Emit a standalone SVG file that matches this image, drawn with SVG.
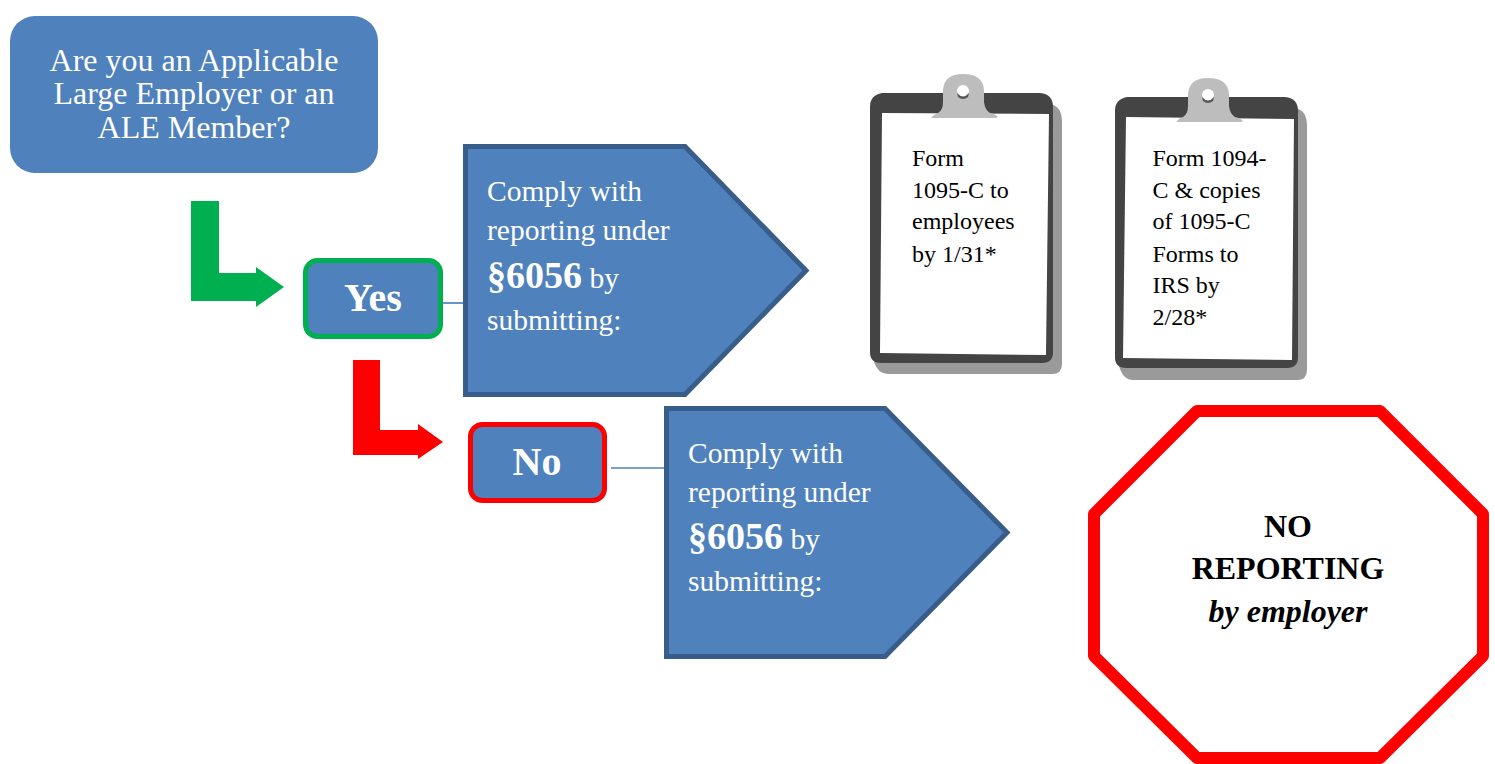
<svg xmlns="http://www.w3.org/2000/svg" width="1495" height="764" viewBox="0 0 1495 764">
<style>
text{font-family:"Liberation Serif","Times New Roman",serif}
.w{fill:#fff}
.k{fill:#000}
.t{font-size:32px}
.s{font-size:29.500px}
.n{font-size:24px}
.b{font-weight:bold}
.pent{fill:#4f81bd;stroke:#385d8a;stroke-width:5;stroke-linejoin:miter}
.lnk{stroke:#4f81bd;stroke-width:1.7;fill:none}
.bd{fill:#444}
.sh{fill:#9a9a9a}
.clip{fill:#bdbdbd}
</style>
<rect width="1495" height="764" fill="#fff"/>
<g id="connectors">
<line class="lnk" x1="443" y1="303" x2="465" y2="303"/>
<line class="lnk" x1="611" y1="468" x2="667" y2="468"/>
<polygon fill="#00b050" points="191,201 219,201 219,273 256,273 256,267 284,287 256,307 256,301 191,301"/>
<polygon fill="#ff0000" points="353,360 380,360 380,430 418,430 418,424 443,442 418,459 418,455 353,455"/>
</g>
<g id="question">
<rect x="10" y="16" width="368" height="157" rx="25" fill="#4f81bd"/>
<text class="w t" text-anchor="middle" x="194" y="71">Are you an Applicable</text>
<text class="w t" text-anchor="middle" x="194" y="104">Large Employer or an</text>
<text class="w t" text-anchor="middle" x="194" y="138">ALE Member?</text>
</g>
<g id="yes">
<rect x="305.500" y="260.500" width="135" height="76" rx="12" fill="#4f81bd" stroke="#00b050" stroke-width="5"/>
<text class="w b" font-size="40" text-anchor="middle" x="373" y="311">Yes</text>
</g>
<g id="no">
<rect x="470.500" y="424.500" width="134" height="76" rx="12" fill="#4f81bd" stroke="#ff0000" stroke-width="5"/>
<text class="w b" font-size="40" text-anchor="middle" x="537" y="475">No</text>
</g>
<g id="comply-yes">
<polygon class="pent" points="465.500,146.500 685,146.500 806,270.500 685,394.500 465.500,394.500"/>
<text class="w s" x="487" y="201">Comply with</text>
<text class="w s" x="487" y="240">reporting under</text>
<text class="w s" x="487" y="288"><tspan class="b" font-size="38">§6056</tspan> by</text>
<text class="w s" x="487" y="330">submitting:</text>
</g>
<g id="comply-no">
<polygon class="pent" points="666.500,408.500 885,408.500 1007,532.500 885,656.500 666.500,656.500"/>
<text class="w s" x="688" y="463">Comply with</text>
<text class="w s" x="688" y="502">reporting under</text>
<text class="w s" x="688" y="549"><tspan class="b" font-size="38">§6056</tspan> by</text>
<text class="w s" x="688" y="591">submitting:</text>
</g>
<g id="clipboard-1095">
<path class="sh" d="M1050,104 Q1062,106 1062,122 L1062,364 Q1062,374 1052,374 L888,374 Q878,374 874,362 Z"/>
<path class="bd" d="M882,93 L1040,93 Q1053,94 1053,107 L1053,352 Q1053,363 1042,363 L881,363 Q870,363 870,352 L870,107 Q870,95 882,93 Z"/>
<polygon fill="#fff" points="882,113 1049,114 1046,355 880,353"/>
<path class="clip" d="M931,118 Q934,114 938,113 Q943,110 943,102 L943,90 Q944,74 963,74 Q983,74 984,90 L984,102 Q985,110 990,113 Q996,114 998,117 L996,118 Z"/>
<circle cx="963" cy="91" r="6" fill="#fff"/>
<path d="M957,93 Q963,100 969,93 L968,97 Q963,101 958,97 Z" fill="#555"/>
<text class="k n" x="912" y="166">Form</text>
<text class="k n" x="912" y="198">1095-C to</text>
<text class="k n" x="912" y="229">employees</text>
<text class="k n" x="912" y="262">by 1/31*</text>
</g>
<g id="clipboard-1094">
<path class="sh" d="M1295,108 Q1307,110 1307,126 L1307,370 Q1307,380 1297,380 L1133,380 Q1123,380 1119,366 Z"/>
<path class="bd" d="M1127,97 L1285,97 Q1298,98 1298,111 L1298,357 Q1298,368 1287,368 L1126,368 Q1115,368 1115,357 L1115,111 Q1115,99 1127,97 Z"/>
<polygon fill="#fff" points="1126,117 1294,119 1292,360 1123,358"/>
<path class="clip" d="M1176,122 Q1179,118 1183,117 Q1188,114 1188,106 L1188,94 Q1189,78 1208,78 Q1228,78 1229,94 L1229,106 Q1230,114 1235,117 Q1241,118 1243,121 L1241,122 Z"/>
<circle cx="1208" cy="95" r="6" fill="#fff"/>
<path d="M1202,97 Q1208,104 1214,97 L1213,101 Q1208,105 1203,101 Z" fill="#555"/>
<text class="k n" x="1152.500" y="166">Form 1094-</text>
<text class="k n" x="1152.500" y="198">C &amp; copies</text>
<text class="k n" x="1152.500" y="229">of 1095-C</text>
<text class="k n" x="1152.500" y="262">Forms to</text>
<text class="k n" x="1152.500" y="293">IRS by</text>
<text class="k n" x="1152.500" y="325">2/28*</text>
</g>
<g id="stop">
<polygon fill="#fff" stroke="#ff0000" stroke-width="12" stroke-linejoin="round" points="1197,411 1380,411 1483,514 1483,656 1380,758 1197,758 1094,656 1094,514"/>
<text class="k b" font-size="32" text-anchor="middle" x="1288" y="537">NO</text>
<text class="k b" font-size="32" text-anchor="middle" x="1288" y="579">REPORTING</text>
<text class="k b" font-size="32" font-style="italic" text-anchor="middle" x="1288" y="622">by employer</text>
</g>
</svg>
